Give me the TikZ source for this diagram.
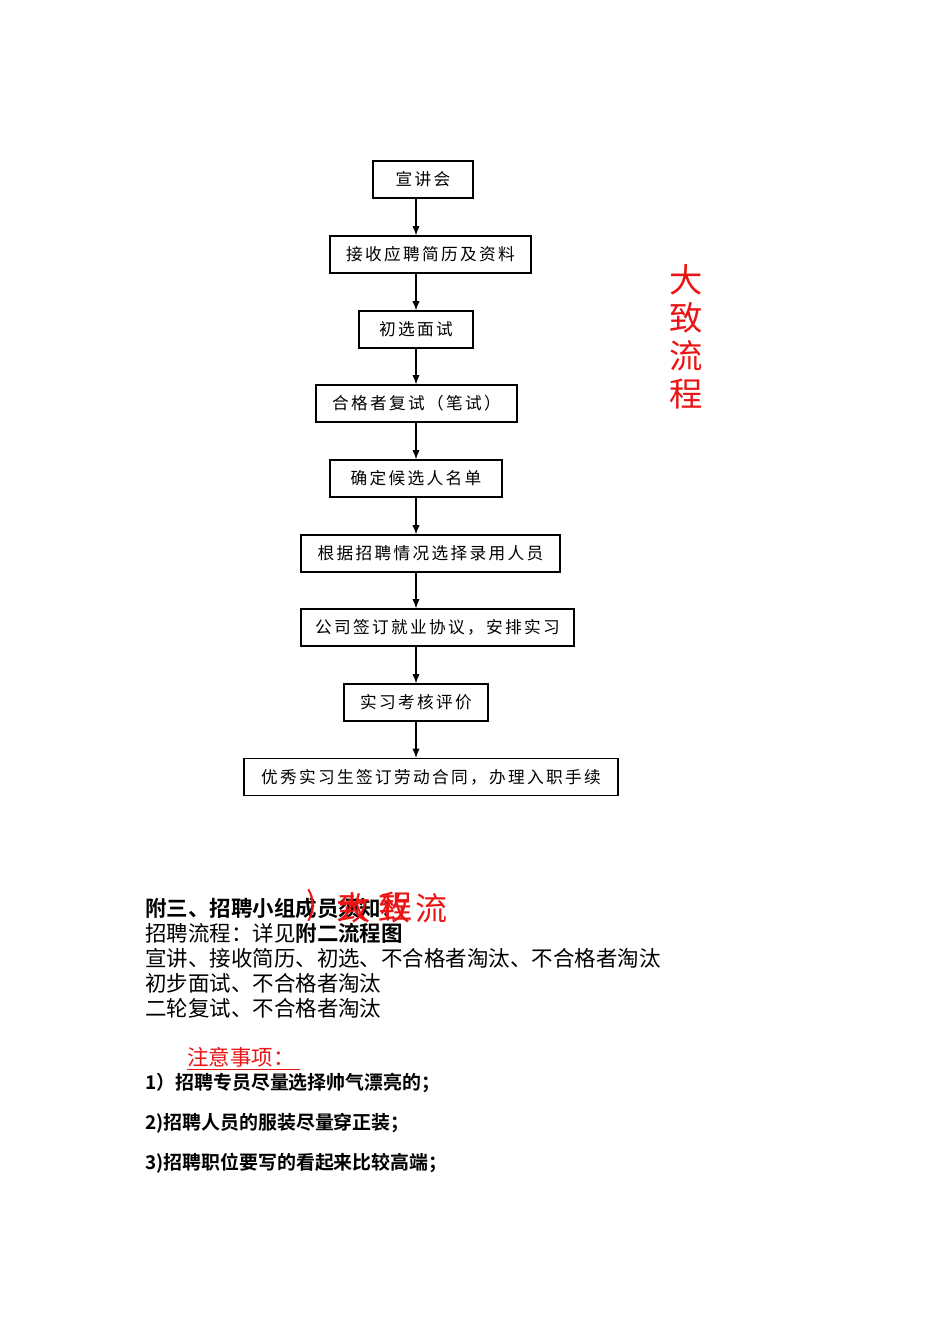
\documentclass[tikz,border=0pt]{standalone}
\usepackage{fontspec}
\usetikzlibrary{arrows.meta}
\setmainfont{Noto Sans CJK SC}[BoldFont={* Bold}]
\newfontfamily\boxfont{Noto Sans CJK SC}[LetterSpace=14]
\definecolor{markred}{RGB}{235,20,20}
\tikzset{
  flow/.style={draw,line width=0.9pt,minimum height=27.75pt,inner sep=0pt,
    font=\boxfont\fontsize{12.5}{14}\selectfont},
  body/.style={anchor=west,inner sep=0pt,font=\fontsize{16.1}{18}\selectfont},
  note/.style={anchor=west,inner sep=0pt,font=\bfseries\fontsize{14.2}{16}\selectfont},
  scrawl/.style={markred,inner sep=0pt,font=\fontsize{24}{26}\selectfont}
}
\begin{document}
\begin{tikzpicture}[x=0.75pt,y=-0.75pt,>={Latex[length=7pt,width=5.5pt]}]
\useasboundingbox (0,0) rectangle (950,1344);
% flow chart
\node[flow,minimum width=75pt] (talk) at (423,179.5) {宣讲会};
\node[flow,minimum width=150.75pt] (resume) at (430.5,254.5) {接收应聘简历及资料};
\node[flow,minimum width=85.5pt] (screen) at (416,329.5) {初选面试};
\node[flow,minimum width=150.75pt] (retest) at (416.5,403.5) {合格者复试（笔试）};
\node[flow,minimum width=129pt] (shortlist) at (416,478.5) {确定候选人名单};
\node[flow,minimum width=194.25pt] (select) at (430.5,553.5) {根据招聘情况选择录用人员};
\node[flow,minimum width=204.75pt] (sign) at (437.5,627.5) {公司签订就业协议，安排实习};
\node[flow,minimum width=108pt] (assess) at (416,702.5) {实习考核评价};
\node[flow,minimum width=280.5pt] (contract) at (431,777) {优秀实习生签订劳动合同，办理入职手续};
\coordinate (spine) at (416,0);
\foreach \a/\b in {talk/resume,resume/screen,screen/retest,retest/shortlist,
  shortlist/select,select/sign,sign/assess,assess/contract}
  \draw[->,line width=0.9pt] (\a.south -| spine) -- (\b.north -| spine);
% side mark
\node[markred,align=center,font=\fontsize{25}{28.5}\selectfont] (mark) at (686,337) {大\\致\\流\\程};
% text below
\node[body,font=\bfseries\fontsize{16.1}{18}\selectfont] (head) at (145,908) {附三、招聘小组成员须知：};
\node[body] (line1) at (145,933) {招聘流程：详见\textbf{附二流程图}};
\node[body] (line2) at (145,958) {宣讲、接收简历、初选、不合格者淘汰、不合格者淘汰};
\node[body] (line3) at (145,983) {初步面试、不合格者淘汰};
\node[body] (line4) at (145,1008) {二轮复试、不合格者淘汰};
\node[scrawl] (s1) at (312,906) {)};
\node[scrawl] (s2) at (352,907) {大};
\node[scrawl] (s3) at (354,908) {致};
\node[scrawl] (s4) at (396,907) {程};
\node[scrawl] (s5) at (394,908) {致};
\node[scrawl] (s6) at (431,908) {流};
\node[body,text=markred] (warn) at (187,1057) {注意事项：};
\draw[markred,line width=0.8pt] ([yshift=-1.5pt]warn.south west) -- ([xshift=4pt,yshift=-1.5pt]warn.south east);
\node[note] (n1) at (145,1083) {1）招聘专员尽量选择帅气漂亮的；};
\node[note] (n2) at (145,1123) {2)招聘人员的服装尽量穿正装；};
\node[note] (n3) at (145,1163) {3)招聘职位要写的看起来比较高端；};
\end{tikzpicture}
\end{document}
